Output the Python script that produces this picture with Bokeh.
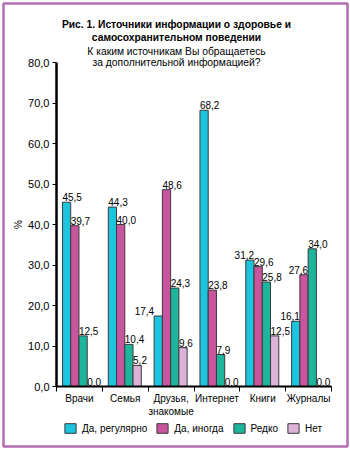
import math
from bokeh.plotting import figure
from bokeh.models import (ColumnDataSource, Range1d, FixedTicker, CustomJSTickFormatter,
                          Legend, LegendItem, Label)
from bokeh.core.properties import value
from bokeh.embed import file_html
from bokeh.resources import INLINE

# ---- data ----
categories = ["Врачи", "Семья", "Друзья,\nзнакомые", "Интернет", "Книги", "Журналы"]
series_names = ["Да, регулярно", "Да, иногда", "Редко", "Нет"]
regular = [45.5, 44.3, 17.4, 68.2, 31.2, 16.1]
sometimes = [39.7, 40.0, 48.6, 23.8, 29.6, 27.6]
rarely = [12.5, 10.4, 24.3, 7.9, 25.8, 34.0]
never = [0.0, 5.2, 9.6, 0.0, 12.5, 0.0]
y_ticks = [0, 10, 20, 30, 40, 50, 60, 70, 80]
y_max = 80

title_lines = ["Рис. 1. Источники информации о здоровье и",
               "самосохранительном поведении",
               "К каким источникам Вы обращаетесь",
               "за дополнительной информацией?"]

# ---- style / layout (pixels) ----
colors = ["#1cc4e0", "#c9559f", "#1db59b", "#dcb2d8"]
offsets = [-0.28, -0.10, 0.08, 0.26]
bar_w = 0.18
anchors = [["L", "L", "LR", "L", "R", "R"],
           ["L", "L", "L", "L", "L", "R"],
           ["L", "L", "L", "L", "L", "L"],
           ["L", "L", "L", "L", "L", "L"]]
FONT = "Liberation Sans"
BORDER = "#b36db3"

FR_L, FR_R, FR_T, FR_B = 3, 347, 3, 446       # purple frame (canvas px)
AX_L, AX_R, AX_T, AX_B = 56, 331, 62, 386     # axes box (canvas px)
ncat = len(categories)
ux = (AX_R - AX_L) / ncat
uy = (AX_B - AX_T) / y_max

def px2x(px):
    return (px - AX_L) / ux

def px2y(py):
    return (AX_B - py) / uy

p = figure(width=350, height=450, output_backend="svg", toolbar_location=None,
           x_range=Range1d(px2x(FR_L), px2x(FR_R)), y_range=Range1d(px2y(FR_B), px2y(FR_T)),
           min_border_left=FR_L, min_border_right=350 - FR_R,
           min_border_top=FR_T, min_border_bottom=450 - FR_B)
p.outline_line_color = BORDER
p.outline_line_width = 2.5
p.xgrid.grid_line_color = None
p.ygrid.grid_line_color = None
p.background_fill_color = "white"
p.border_fill_color = "white"

all_series = [regular, sometimes, rarely, never]
legend_items = []
for si, vals in enumerate(all_series):
    xs = [i + 0.5 + offsets[si] for i in range(ncat)]
    src = ColumnDataSource(dict(x=xs, top=vals))
    r = p.vbar(x="x", top="top", bottom=0, width=bar_w, source=src, fill_color=colors[si],
               line_color="#3a3a3a", line_width=1)
    legend_items.append(LegendItem(label=series_names[si], renderers=[r]))
    lx, la, lt = [], [], []
    for i, v in enumerate(vals):
        a = anchors[si][i]
        if a == "L":
            lx.append(xs[i] - bar_w / 2); la.append("left")
        elif a == "R":
            lx.append(xs[i] + bar_w / 2); la.append("right")
        else:
            lx.append(xs[i] - bar_w / 2); la.append("right")
        lt.append(f"{v:.1f}".replace(".", ","))
    lsrc = ColumnDataSource(dict(x=lx, y=vals, t=lt, a=la))
    p.text(x="x", y="y", text="t", text_align="a", source=lsrc, text_baseline="bottom",
           y_offset=-1, text_font=value(FONT), text_font_size="10px", text_color="black")

xa = p.xaxis[0]
xa.fixed_location = 0
xa.bounds = (0, ncat)
xa.ticker = FixedTicker(ticks=[i + 0.5 for i in range(ncat)],
                        minor_ticks=list(range(ncat + 1)))
xa.major_label_overrides = {i + 0.5: c for i, c in enumerate(categories)}
xa.major_tick_out = 0
xa.major_tick_in = 0
xa.minor_tick_out = 5
xa.minor_tick_in = 0
xa.minor_tick_line_color = "black"
xa.axis_line_width = 2
xa.axis_line_color = "black"
xa.major_label_text_font = FONT
xa.major_label_text_font_size = "10px"
xa.major_label_text_color = "black"
xa.major_label_standoff = 1

ya = p.yaxis[0]
ya.fixed_location = 0
ya.bounds = (0, y_max)
ya.ticker = FixedTicker(ticks=y_ticks)
ya.formatter = CustomJSTickFormatter(code="return tick.toFixed(1).replace('.', ',');")
ya.major_tick_out = 4
ya.major_tick_in = 0
ya.minor_tick_line_color = None
ya.axis_line_width = 2.5
ya.axis_line_color = "black"
ya.major_label_text_font = FONT
ya.major_label_text_font_size = "11px"
ya.major_label_text_color = "black"
ya.major_label_standoff = 3

# y axis title "%"
p.add_layout(Label(x=px2x(18), y=px2y(224), text="%", angle=math.pi / 2,
                   text_align="center", text_baseline="middle", text_font=FONT,
                   text_font_size="10px", text_color="black"))

# title lines
title_px_y = [24, 37, 51, 62]
for k, line in enumerate(title_lines):
    p.add_layout(Label(x=px2x(176), y=px2y(title_px_y[k]), text=line,
                       text_align="center", text_baseline="middle", text_font=FONT,
                       text_font_size="10.3px",
                       text_font_style="bold" if k < 2 else "normal", text_color="black"))

legend = Legend(items=legend_items, orientation="horizontal",
                location=(63 - FR_L, FR_B - 434),
                glyph_width=14, glyph_height=12, label_standoff=5, spacing=8,
                padding=0, margin=0, border_line_color=None, background_fill_alpha=0,
                label_text_font=FONT, label_text_font_size="10px", label_text_color="black")
p.add_layout(legend)

open("out.html", "w").write(file_html(p, INLINE))
